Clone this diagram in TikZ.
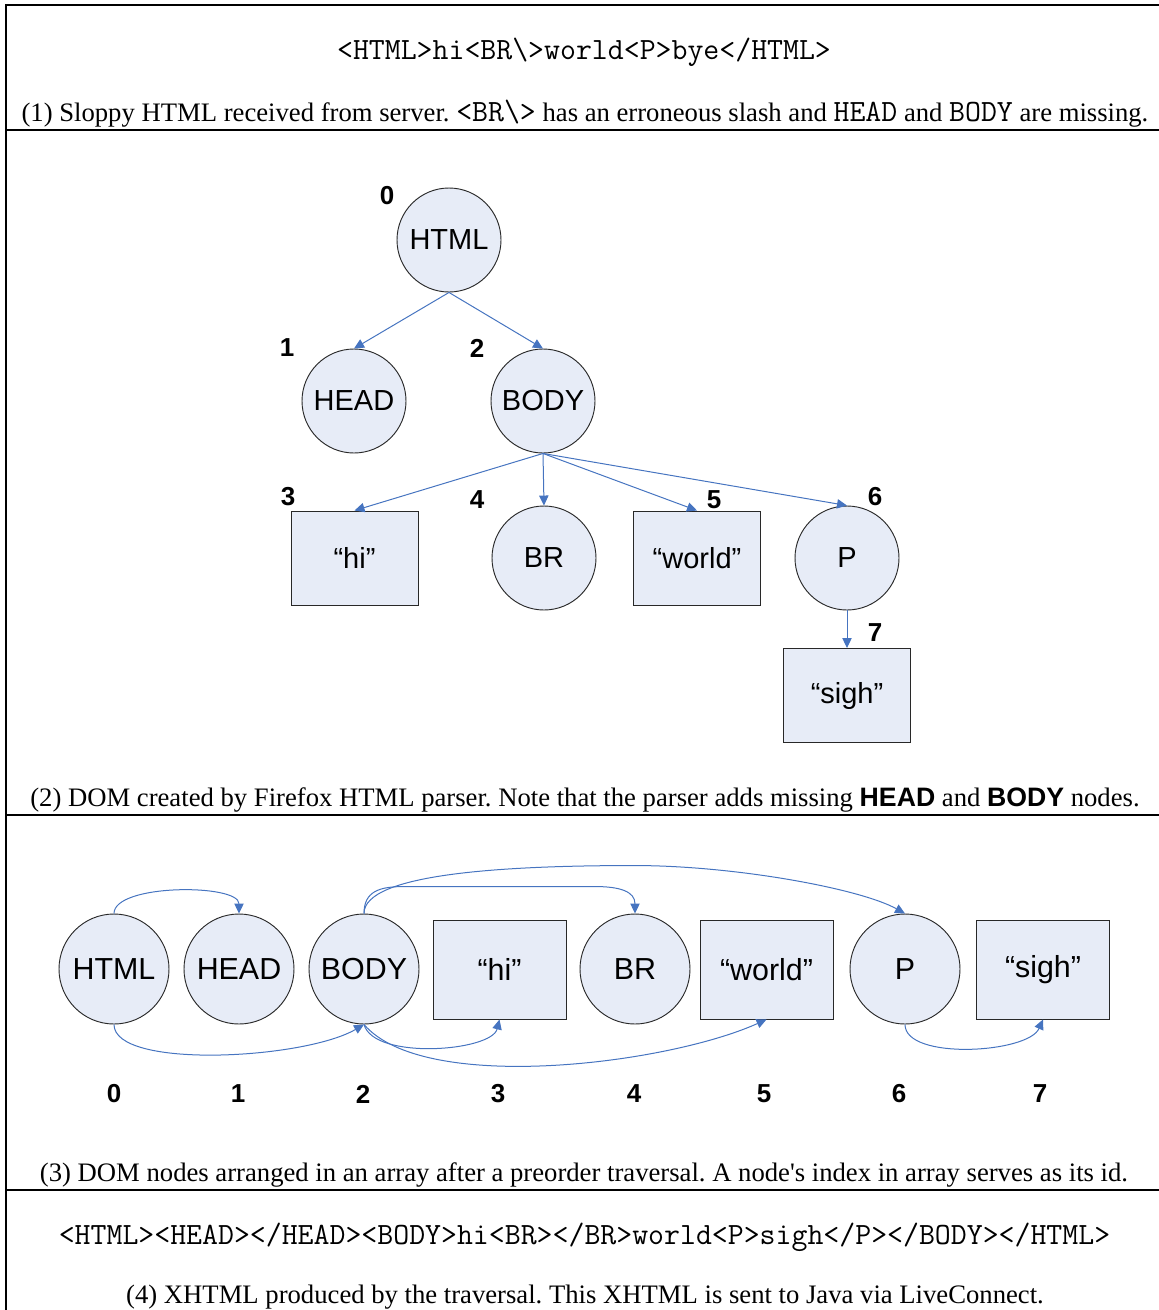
\documentclass[tikz,border=0pt]{standalone}
\usepackage{fontspec}
\setmainfont{Liberation Serif}
\newfontfamily\arialf{Liberation Sans}
\usetikzlibrary{arrows.meta,calc}
\definecolor{nodefill}{RGB}{231,236,247}
\definecolor{linkblue}{RGB}{70,116,192}
\definecolor{edgegray}{RGB}{40,40,40}
\newcommand{\codef}{\ttfamily\fontsize{23.2}{25}\selectfont}

\tikzset{
  frameline/.style={line width=1.5pt,black},
  capt/.style={font=\frenchspacing\fontsize{20}{23}\selectfont,inner sep=0pt,anchor=center},
  codetext/.style={font=\codef,inner sep=0pt,anchor=center},
  tcirc/.style={circle,draw=edgegray,line width=0.7pt,fill=nodefill,minimum size=78pt,inner sep=0pt,
    font=\arialf\fontsize{21.75}{24}\selectfont},
  tbox/.style={rectangle,draw=edgegray,line width=0.7pt,fill=nodefill,minimum width=95.25pt,minimum height=70.5pt,inner sep=0pt,
    font=\arialf\fontsize{21.75}{24}\selectfont},
  acirc/.style={circle,draw=edgegray,line width=0.7pt,fill=nodefill,minimum size=82.5pt,inner sep=0pt,
    font=\arialf\fontsize{22.8}{25}\selectfont},
  abox/.style={rectangle,draw=edgegray,line width=0.7pt,fill=nodefill,minimum width=99.75pt,minimum height=74.25pt,inner sep=0pt,
    font=\arialf\fontsize{22.8}{25}\selectfont},
  idnum/.style={font=\arialf\bfseries\fontsize{19.5}{22}\selectfont,inner sep=0pt},
  link/.style={draw=linkblue,line width=0.75pt,-{Triangle[length=7.5pt,width=7pt]},fill=none},
}

\begin{document}
\begin{tikzpicture}[x=0.75pt,y=-0.75pt]
\useasboundingbox (0,0) rectangle (1159,1310);

% panel frame
\draw[frameline] (6,1310) -- (6,5) -- (1159,5);
\draw[frameline] (6,130) -- (1159,130);
\draw[frameline] (6,815) -- (1159,815);
\draw[frameline] (6,1190) -- (1159,1190);

% panel 1: raw markup
\node[codetext] (raw) at (584,52) {<HTML>hi<BR\textbackslash>world<P>bye</HTML>};
\node[capt] (cap1) at (585,114) {(1) Sloppy HTML received from server. {\codef <BR\textbackslash>} has an erroneous slash and {\codef HEAD} and {\codef BODY} are missing.};

% panel 2: DOM tree
\node[tcirc] (thtml) at (449,240) {HTML};
\node[tcirc] (thead) at (354,401) {HEAD};
\node[tcirc] (tbody) at (543,401) {BODY};
\node[tbox]  (thi) at (354.5,558) {“hi”};
\node[tcirc] (tbr) at (544,558) {BR};
\node[tbox]  (tworld) at (697,558) {“world”};
\node[tcirc] (tp) at (847,558) {P};
\node[tbox]  (tsigh) at (847,695.5) {“sigh”};

\node[idnum] (t0) at (387,196) {0};
\node[idnum] (t1) at (287,348) {1};
\node[idnum] (t2) at (477,348) {2};
\node[idnum] (t3) at (288,497) {3};
\node[idnum] (t4) at (477,500) {4};
\node[idnum] (t5) at (714,500) {5};
\node[idnum] (t6) at (875,497) {6};
\node[idnum] (t7) at (875,633) {7};

\draw[link] (thtml.south) -- (thead.north);
\draw[link] (thtml.south) -- (tbody.north);
\draw[link] (tbody.south) -- (thi.north);
\draw[link] (tbody.south) -- (tbr.north);
\draw[link] (tbody.south) -- (tworld.north);
\draw[link] (tbody.south) -- (tp.north);
\draw[link] (tp.south) -- (tsigh.north);

\node[capt] (cap2) at (585,800) {(2) DOM created by Firefox HTML parser. Note that the parser adds missing {\arialf\bfseries HEAD} and {\arialf\bfseries BODY} nodes.};

% panel 3: preorder array
\node[acirc] (ahtml) at (114,969) {HTML};
\node[acirc] (ahead) at (239,969) {HEAD};
\node[acirc] (abody) at (364,969) {BODY};
\node[abox]  (ahi) at (499.5,969.5) {“hi”};
\node[acirc] (abr) at (635,969) {BR};
\node[abox]  (aworld) at (766.5,969.5) {“world”};
\node[acirc] (ap) at (905,969) {P};
\node[abox]  (asigh) at (1043,969.5) {“sigh”};

\node[idnum] (a0) at (114,1094) {0};
\node[idnum] (a1) at (238,1094) {1};
\node[idnum] (a2) at (363,1094) {2};
\node[idnum] (a3) at (498,1094) {3};
\node[idnum] (a4) at (634,1094) {4};
\node[idnum] (a5) at (764,1094) {5};
\node[idnum] (a6) at (899,1094) {6};
\node[idnum] (a7) at (1040,1094) {7};

% first-child links above the array
\draw[link] (ahtml.north) .. controls +(0,-30) and +(0,-30) .. (ahead.north);
\draw[link] (abody.north) .. controls +(0,-22) and +(-25,0) .. ($(abody.north)+(40,-27)$)
  -- ($(abr.north)+(-40,-27)$) .. controls +(25,0) and +(0,-22) .. (abr.north);
\draw[link] (abody.north) .. controls +(0,-40) and +(-130,0) .. ($(abody.north)!0.5!(ap.north)+(0,-48)$)
  .. controls +(100,0) and +(-45,-25) .. (ap.north);

% next-sibling links below the array
\draw[link] (ahtml.south) .. controls +(0,45) and +(-60,35) .. (abody.south);
\draw[link] (abody.south) .. controls +(10,36) and +(-8,32) .. (ahi.south);
\draw[link] (abody.south) .. controls +(60,70) and +(-100,45) .. (aworld.south);
\draw[link] (ap.south) .. controls +(0,36) and +(-15,34) .. (asigh.south);

\node[capt] (cap3) at (584,1175) {(3) DOM nodes arranged in an array after a preorder traversal. A node\textquotesingle s index in array serves as its id.};

% panel 4: serialized output
\node[codetext] (xhtml) at (584.5,1237) {<HTML><HEAD></HEAD><BODY>hi<BR></BR>world<P>sigh</P></BODY></HTML>};
\node[capt] (cap4) at (585,1297) {(4) XHTML produced by the traversal. This XHTML is sent to Java via LiveConnect.};
\end{tikzpicture}
\end{document}
